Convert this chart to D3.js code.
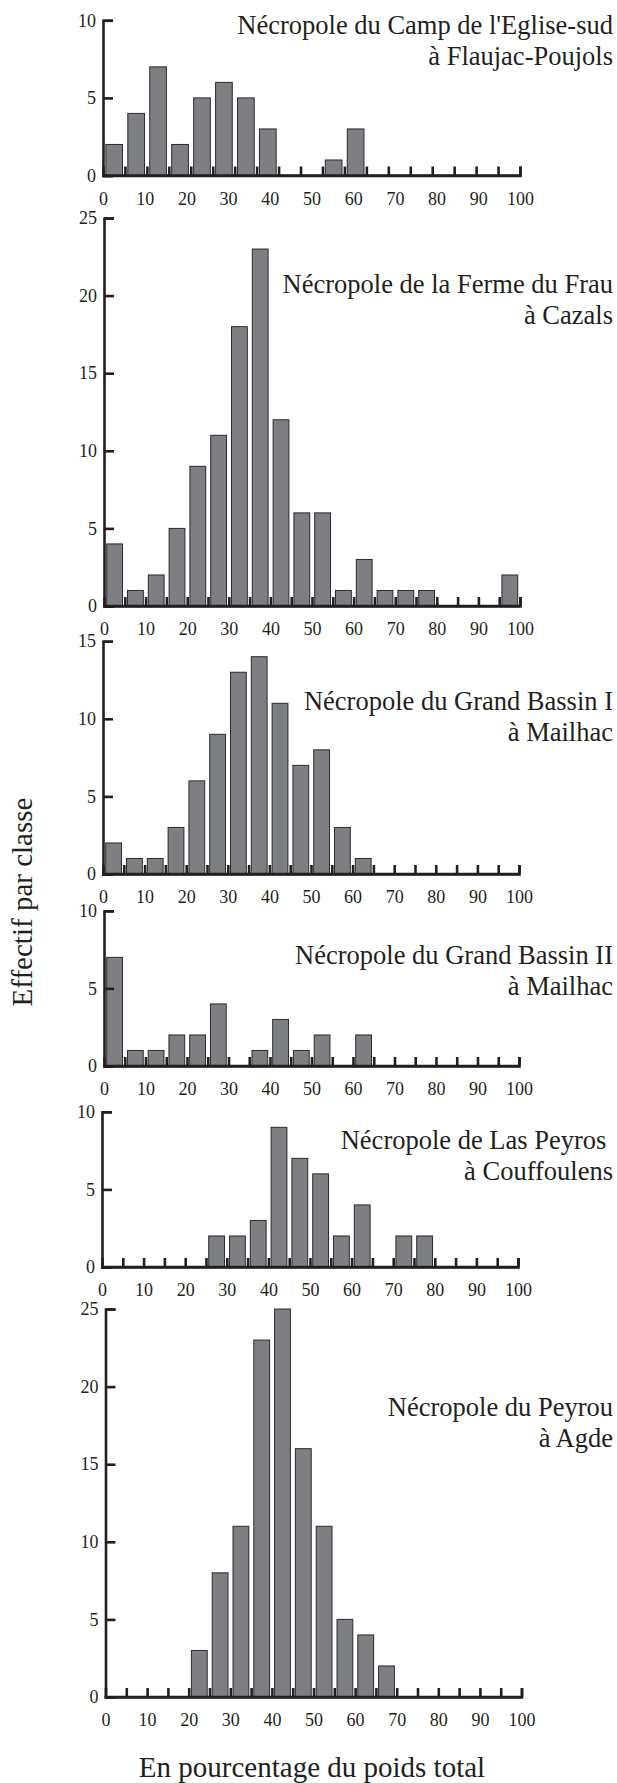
<!DOCTYPE html>
<html>
<head>
<meta charset="utf-8">
<script src="https://cdn.jsdelivr.net/npm/d3@7"></script>
<style>
body { margin: 0; background: #fff; }
text { font-family: "Liberation Serif", "Times New Roman", serif; fill: #231f20; }
.axis path, .axis line { stroke: #231f20; stroke-width: 2.6; }
</style>
</head>
<body>
<script>
// Effectif par classe (classes de 5 %)
// Flaujac-Poujols est dessiné avec 19 classes
var flaujac     = [2, 4, 7, 2, 5, 6, 5, 3, 0, 0, 1, 3, 0, 0, 0, 0, 0, 0, 0];
var cazals      = [4, 1, 2, 5, 9, 11, 18, 23, 12, 6, 6, 1, 3, 1, 1, 1, 0, 0, 0, 2];
var mailhacI    = [2, 1, 1, 3, 6, 9, 13, 14, 11, 7, 8, 3, 1, 0, 0, 0, 0, 0, 0, 0];
var mailhacII   = [7, 1, 1, 2, 2, 4, 0, 1, 3, 1, 2, 0, 2, 0, 0, 0, 0, 0, 0, 0];
var couffoulens = [0, 0, 0, 0, 0, 2, 2, 3, 9, 7, 6, 2, 4, 0, 2, 2, 0, 0, 0, 0];
var agde        = [0, 0, 0, 0, 3, 8, 11, 23, 25, 16, 11, 5, 4, 2, 0, 0, 0, 0, 0, 0];

var yMax = [10, 25, 15, 10, 10, 25];
var xLabels = [0, 10, 20, 30, 40, 50, 60, 70, 80, 90, 100];

var titles = [
    ["Nécropole du Camp de l'Eglise-sud", "à Flaujac-Poujols"],
    ["Nécropole de la Ferme du Frau", "à Cazals"],
    ["Nécropole du Grand Bassin I", "à Mailhac"],
    ["Nécropole du Grand Bassin II", "à Mailhac"],
    ["Nécropole de Las Peyros\u00a0", "à Couffoulens"],
    ["Nécropole du Peyrou", "à Agde"]
];

var series = [flaujac, cazals, mailhacI, mailhacII, couffoulens, agde];

// page layout of each small chart (x of axis ends, y of the zero line, y of title)
var layout = [
    {x0: 103,   x1: 520,   base: 175.5, title: 34},
    {x0: 104,   x1: 520,   base: 606,   title: 293},
    {x0: 103,   x1: 519,   base: 874,   title: 710},
    {x0: 104,   x1: 519,   base: 1066,  title: 964},
    {x0: 102,   x1: 518,   base: 1267,  title: 1149},
    {x0: 105.5, x1: 521.5, base: 1697,  title: 1416}
];
var unit = 15.52;   // px per count
var width = 617, height = 1783;
var serif = '"Liberation Serif", "Times New Roman", serif';

var svg = d3.select("body")
    .append("svg")
        .attr("width", width)
        .attr("height", height);

series.forEach(function(values, k) {
    var L = layout[k];
    var n = values.length;
    var edges = d3.range(n + 1).map(function(i) { return i * 100 / n; });

    var x = d3.scaleLinear().domain([0, 100]).range([L.x0, L.x1]);
    var y = d3.scaleLinear().domain([0, yMax[k]]).range([L.base, L.base - yMax[k] * unit]);

    var g = svg.append("g");

    // bin ticks pointing up
    g.append("g")
        .attr("class", "axis")
        .attr("transform", "translate(0," + L.base + ")")
        .call(d3.axisBottom(x).tickValues(edges.slice(1)).tickSizeInner(-9).tickSizeOuter(-9).tickFormat(""));

    // bars
    var bw = x(edges[1]) - x(edges[0]);
    g.selectAll(".bar")
        .data(values.map(function(v, i) { return {v: v, i: i}; }).filter(function(d) { return d.v > 0; }))
        .enter().append("rect")
        .attr("class", "bar")
        .attr("x", function(d) { return x(edges[d.i]) + bw * 0.13; })
        .attr("width", bw * 0.76)
        .attr("y", function(d) { return y(d.v); })
        .attr("height", function(d) { return y(0) - y(d.v); })
        .style("fill", "#7e7f83")
        .style("stroke", "#2b2b2b")
        .style("stroke-width", 1);

    // x labels
    var xl = g.append("g")
        .attr("class", "axis")
        .attr("transform", "translate(0," + L.base + ")")
        .call(d3.axisBottom(x).tickValues(xLabels).tickSize(0));
    xl.attr("font-family", serif).attr("font-size", 18);
    xl.select(".domain").remove();
    xl.selectAll("text")
        .attr("y", 29)
        .attr("dy", null);

    // y axis
    var yTicks = d3.range(0, yMax[k] + 1, 5);
    var ya = g.append("g")
        .attr("class", "axis")
        .attr("transform", "translate(" + L.x0 + ",0)")
        .call(d3.axisLeft(y).tickValues(yTicks).tickSizeInner(-10).tickSizeOuter(-10).tickPadding(7));
    ya.attr("font-family", serif).attr("font-size", 18);

    // zero line over the bar bottoms
    g.append("line")
        .attr("x1", L.x0 - 1)
        .attr("x2", L.x1)
        .attr("y1", L.base)
        .attr("y2", L.base)
        .style("stroke", "#231f20")
        .style("stroke-width", 2.6);

    // title
    g.selectAll(".title")
        .data(titles[k])
        .enter().append("text")
        .attr("class", "title")
        .attr("x", 613)
        .attr("y", function(d, i) { return L.title + i * 31; })
        .style("text-anchor", "end")
        .style("font-size", "26.5px")
        .text(function(d) { return d; });
});

svg.append("text")      // y axis title
    .attr("transform", "translate(32,902) rotate(-90)")
    .style("text-anchor", "middle")
    .style("font-size", "29px")
    .text("Effectif par classe");

svg.append("text")      // x axis title
    .attr("x", 312)
    .attr("y", 1777)
    .style("text-anchor", "middle")
    .style("font-size", "29px")
    .text("En pourcentage du poids total");
</script>
</body>
</html>
